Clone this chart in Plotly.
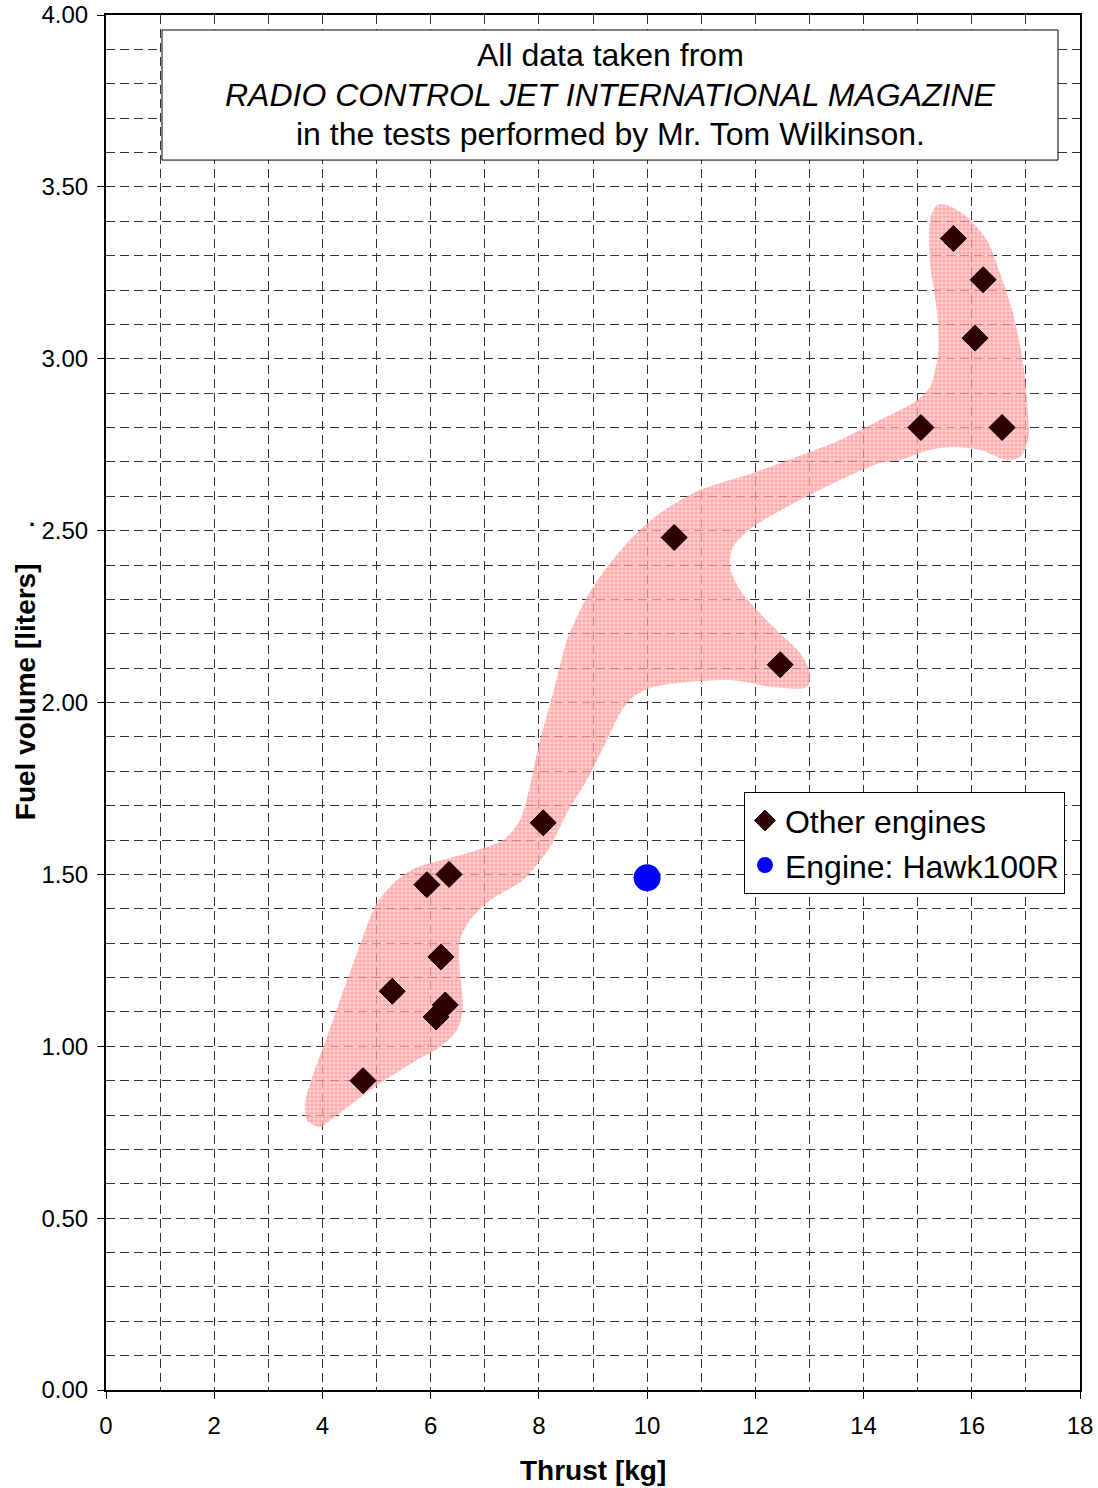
import plotly.graph_objects as go

# ---- data ----
thrust_other = [4.75, 5.29, 6.19, 6.10, 6.27, 5.93, 6.34, 8.08, 10.50, 12.46, 15.06, 16.56, 16.06, 16.21, 15.66]
fuel_other = [0.90, 1.16, 1.26, 1.085, 1.12, 1.47, 1.50, 1.65, 2.48, 2.11, 2.80, 2.80, 3.06, 3.23, 3.35]

thrust_hawk = [10.0]
fuel_hawk = [1.49]

# outline of the shaded region (data units)
region_x = [3.955, 3.715, 3.678, 4.195, 4.639, 5.008, 5.378, 5.748, 6.228, 6.856, 7.337, 7.651,
            8.021, 8.261, 8.520, 8.889, 9.259, 9.684, 10.238, 10.978, 11.957, 12.955, 13.565,
            14.304, 14.914, 15.228, 15.376, 15.358, 15.228, 15.228, 15.358, 15.542, 15.912,
            16.282, 16.522, 16.762, 16.947, 17.039, 17.039, 16.891, 16.651, 16.152, 15.653,
            15.228, 14.674, 14.304, 13.565, 12.585, 11.957, 11.587, 11.532, 11.717, 12.327,
            12.826, 13.011, 12.955, 12.327, 11.587, 10.737, 10.109, 9.739, 9.499, 9.259,
            8.889, 8.520, 8.205, 7.707, 7.097, 6.727, 6.542, 6.542, 6.598, 6.487, 6.173,
            5.748, 5.249, 4.639, 4.140, 3.955]
region_y = [0.765, 0.785, 0.835, 1.076, 1.271, 1.417, 1.484, 1.521, 1.542, 1.571, 1.600, 1.658,
            1.891, 2.028, 2.182, 2.307, 2.394, 2.473, 2.551, 2.618, 2.668, 2.726, 2.764,
            2.822, 2.871, 2.918, 3.017, 3.133, 3.279, 3.404, 3.447, 3.447, 3.412,
            3.345, 3.249, 3.133, 2.988, 2.842, 2.764, 2.714, 2.705, 2.735, 2.743,
            2.735, 2.705, 2.697, 2.647, 2.569, 2.511, 2.452, 2.394, 2.327, 2.220,
            2.144, 2.086, 2.045, 2.045, 2.065, 2.060, 2.045, 2.016, 1.969, 1.891,
            1.775, 1.679, 1.580, 1.484, 1.425, 1.367, 1.309, 1.213, 1.114, 1.047, 0.998,
            0.960, 0.911, 0.844, 0.785, 0.765]

x_range = [0, 18]
y_range = [0, 4]

note_lines = ["All data taken from",
              "<i>RADIO CONTROL JET INTERNATIONAL MAGAZINE</i>",
              "in the tests performed by Mr. Tom Wilkinson."]
note_line_y = [0.9709, 0.9418, 0.9135]

FONT = "Liberation Sans, Arial, sans-serif"

fig = go.Figure()

fig.add_trace(go.Scatter(
    x=region_x, y=region_y, mode="lines", fill="toself",
    line=dict(width=0, shape="spline", smoothing=0.8, color="rgba(0,0,0,0)"),
    fillpattern=dict(shape="+", fgcolor="rgba(250,40,40,0.7)", bgcolor="rgba(255,195,195,0.7)",
                     size=4, solidity=0.4),
    showlegend=False, hoverinfo="skip"))

fig.add_trace(go.Scatter(
    x=thrust_other, y=fuel_other, mode="markers", name="Other engines",
    marker=dict(symbol="diamond", size=20, color="#2e0000", line=dict(color="black", width=1))))

fig.add_trace(go.Scatter(
    x=thrust_hawk, y=fuel_hawk, mode="markers", name="Engine: Hawk100R",
    marker=dict(symbol="circle", size=27, color="#0000ff")))

grid = dict(showgrid=True, gridcolor="#333333", gridwidth=1, griddash="9px,5px")

fig.update_xaxes(
    range=x_range, dtick=2, tick0=0, ticks="outside", ticklen=7, tickwidth=1, tickcolor="black",
    showline=True, linewidth=2, linecolor="black", mirror=True, zeroline=False, automargin=False,
    ticklabeloverflow="allow", ticklabelstandoff=6,
    tickfont=dict(family=FONT, size=24, color="black"),
    minor=dict(dtick=1, **grid), **grid)
fig.update_yaxes(
    range=y_range, dtick=0.5, tick0=0, tickformat=".2f", ticks="outside", ticklen=7, tickwidth=1,
    tickcolor="black", showline=True, linewidth=2, linecolor="black", mirror=True, zeroline=False,
    automargin=False, ticklabeloverflow="allow", ticklabelstandoff=4,
    tickfont=dict(family=FONT, size=24, color="black"),
    minor=dict(dtick=0.1, **grid), **grid)

annotations = [
    dict(text=t, xref="paper", yref="paper", x=0.5175, y=yy, xanchor="center", yanchor="middle",
         showarrow=False, font=dict(family=FONT, size=32, color="black"))
    for t, yy in zip(note_lines, note_line_y)
]
annotations += [
    dict(text="<b>Thrust [kg]</b>", xref="paper", yref="paper", x=0.5, y=-0.0582,
         xanchor="center", yanchor="middle", showarrow=False,
         font=dict(family=FONT, size=28, color="black")),
    dict(text="<b>Fuel volume [liters]</b>", xref="paper", yref="paper", x=-0.083, y=0.5076,
         xanchor="center", yanchor="middle", showarrow=False, textangle=-90,
         font=dict(family=FONT, size=28, color="black")),
    dict(text="<b>.</b>", xref="paper", yref="paper", x=-0.076, y=0.634,
         xanchor="center", yanchor="middle", showarrow=False,
         font=dict(family=FONT, size=22, color="black")),
]

fig.update_layout(
    width=1098, height=1488,
    margin=dict(l=106, r=18, t=15, b=98),
    paper_bgcolor="white", plot_bgcolor="white",
    font=dict(family=FONT, color="black"),
    legend=dict(x=0.655, y=0.4348, xanchor="left", yanchor="top",
                bordercolor="black", borderwidth=1, bgcolor="white",
                font=dict(family=FONT, size=32, color="black"),
                tracegroupgap=0),
    shapes=[dict(type="rect", xref="paper", yref="paper", x0=0.0575, x1=0.9774, y0=0.8945, y1=0.9891,
                 line=dict(color="black", width=1), fillcolor="white", layer="above")],
    annotations=annotations,
)

fig.write_html("out.html", config={"displayModeBar": False},
               post_script="document.body.style.margin='0';")
